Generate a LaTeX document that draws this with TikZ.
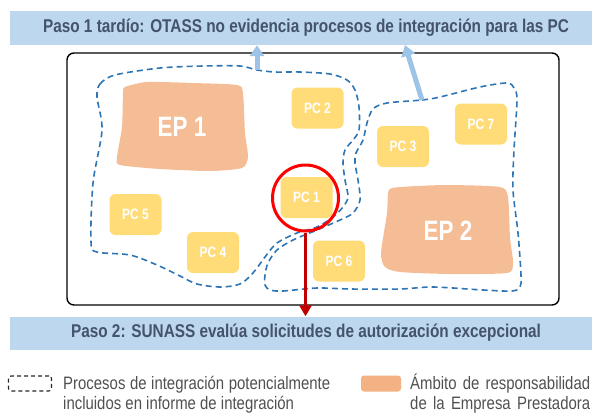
\documentclass[tikz,border=0pt]{standalone}
\usepackage{fontspec}
\setmainfont{Liberation Sans}
\newfontfamily\narrowfont{Liberation Sans}[FakeStretch=0.83]
\newfontfamily\labelfont{Liberation Sans}[FakeStretch=0.8]
\usetikzlibrary{arrows.meta}
\definecolor{bannerbg}{HTML}{BDD7EE}
\definecolor{bannertx}{HTML}{44546A}
\definecolor{dashblue}{HTML}{2E75B6}
\definecolor{arrblue}{HTML}{9DC3E6}
\definecolor{epfill}{HTML}{F4BD96}
\definecolor{legorange}{HTML}{F4B183}
\definecolor{pcfill}{HTML}{FFDC78}
\definecolor{legtx}{HTML}{505050}
\definecolor{darkred}{HTML}{C00000}
\begin{document}
\begin{tikzpicture}[x=1pt,y=-1pt,
  banner/.style={fill=bannerbg, minimum width=592pt, inner sep=0pt, text=bannertx, font=\narrowfont\bfseries\fontsize{18.5}{20}\selectfont},
  mainbox/.style={draw=black, line width=1.4pt, rounded corners=7pt, minimum width=492pt, minimum height=252pt, inner sep=0pt},
  pcbox/.style={fill=pcfill, rounded corners=6pt, minimum width=52pt, minimum height=41pt, inner sep=0pt, text=white, font=\labelfont\bfseries\fontsize{15}{15}\selectfont},
  eplabel/.style={text=white, font=\labelfont\bfseries\fontsize{28}{28}\selectfont, inner sep=0pt},
  region/.style={draw=dashblue, line width=1.6pt, dash pattern=on 6pt off 4pt},
  uparrow/.style={draw=arrblue, line width=5pt, -{Triangle[width=14pt,length=11pt]}},
  downarrow/.style={draw=darkred, line width=3.2pt, -{Triangle[width=12pt,length=11pt]}},
  marker/.style={draw=red, line width=3pt, circle, minimum size=66pt, inner sep=0pt},
  legtext/.style={anchor=base west, inner sep=0pt, text=legtx, font=\narrowfont\fontsize{18}{20}\selectfont},
]
\useasboundingbox (0,0) rectangle (592,416);

% banners
\node[banner, minimum height=34pt] (b1) at (306,28) {Paso 1 tardío: OTASS no evidencia procesos de integración para las PC};
\node[banner, minimum height=33pt] (b2) at (306,333) {Paso 2: SUNASS evalúa solicitudes de autorización excepcional};

% main box
\node[mainbox] (box) at (313,179) {};

% dashed regions
\draw[region] plot[smooth cycle, tension=0.5] coordinates {
 (97,97) (100,84) (115,75) (160,68) (203,66) (240,66) (257,70) (275,72) (300,72)
 (330,74) (347,80) (355,90) (359,107) (359,130) (353,140) (345,150) (343,163)
 (345,180) (348,197) (343,207) (333,217) (317,227) (297,233) (277,243) (265,257)
 (253,273) (240,284) (220,287) (197,284) (180,276) (157,265) (130,255) (97,252)
 (91,242) (93,183) (102,130)};
\draw[region] plot[smooth cycle, tension=0.5] coordinates {
 (387,103) (422,100) (440,97) (480,87) (507,83) (514,88) (517,100) (514,150)
 (513,190) (518,233) (521,275) (520,287) (512,291) (483,290) (433,287) (400,289)
 (350,289) (317,288) (283,291) (270,290) (265,285) (265,275) (268,263) (277,250)
 (293,240) (317,230) (340,220) (353,213) (360,200) (358,180) (355,163) (356,153)
 (363,140) (367,123) (373,109)};

% EP blobs
\fill[epfill] plot[smooth cycle, tension=0.4] coordinates {
 (125,87) (147,82) (193,83) (237,85) (243,93) (245,133) (248,157) (242,168)
 (210,171) (160,169) (120,165) (117,157) (122,127) (123,93)};
\node[eplabel] (ep1) at (182,127) {EP 1};
\fill[epfill] plot[smooth cycle, tension=0.4] coordinates {
 (392,188) (417,186) (450,185) (500,187) (508,197) (510,237) (513,263) (507,273)
 (450,274) (400,272) (385,267) (381,253) (387,213) (388,193)};
\node[eplabel] (ep2) at (448,231) {EP 2};

% PCs
\node[pcbox] (pc1) at (306.5,197.5) {PC 1};
\node[pcbox] (pc2) at (317.5,108) {PC 2};
\node[pcbox] (pc3) at (403,146.5) {PC 3};
\node[pcbox] (pc4) at (213,252.5) {PC 4};
\node[pcbox] (pc5) at (135.5,214.5) {PC 5};
\node[pcbox] (pc6) at (339,261) {PC 6};
\node[pcbox] (pc7) at (481,124) {PC 7};

% highlight circle
\node[marker] (circ) at (305.5,198) {};

% arrows
\coordinate (a1) at (257,70);
\coordinate (a2) at (422,100);
\coordinate (t2) at (405,45);
\draw[uparrow] (a1) -- (a1 |- b1.south);
\draw[uparrow] (a2) -- (t2);
\draw[downarrow] (circ.south) -- (circ.south |- b2.north);

% legend
\node[draw=black!85, line width=1.1pt, dash pattern=on 4pt off 3pt, rounded corners=2.5pt, minimum width=43pt, minimum height=15pt, inner sep=0pt] (legdash) at (30,383.5) {};
\node[fill=legorange, rounded corners=3pt, minimum width=40pt, minimum height=16pt, inner sep=0pt] (legsw) at (381,383.5) {};
\node[legtext] (l1) at (63,389) {\makebox[267pt][s]{Procesos de integración potencialmente}};
\node[legtext] (l2) at (63,409) {incluidos en informe de integración};
\node[legtext] (r1) at (410,389) {\makebox[180pt][s]{Ámbito de responsabilidad}};
\node[legtext] (r2) at (410,409) {\makebox[180pt][s]{de la Empresa Prestadora}};
\end{tikzpicture}
\end{document}
